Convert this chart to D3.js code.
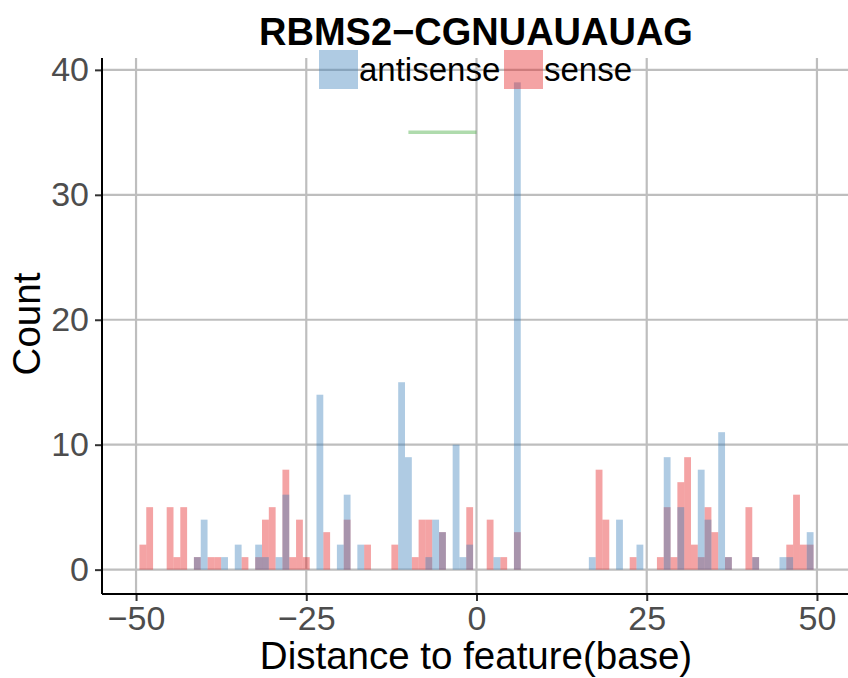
<!DOCTYPE html>
<html>
<head>
<meta charset="utf-8">
<script src="https://cdn.jsdelivr.net/npm/d3@7"></script>
<style>
  html, body { margin: 0; padding: 0; background: #ffffff; }
  svg { display: block; font-family: "Liberation Sans", Arial, Helvetica, sans-serif; }
</style>
</head>
<body>
<svg id="chart" width="848" height="678"></svg>
<script>
// ---- data ----
const title = "RBMS2\u2212CGNUAUAUAG";
const seriesNames = ["antisense", "sense"];
const antisensePos = [-41,-40,-37,-35,-32,-31,-29,-28,-23,-20,-19,-17,-11,-10,-7,-6,-5,-3,-2,-1,3,6,17,21,24,28,30,33,34,36,37,41,45,46,49];
const antisenseCnt = [1,4,1,2,2,1,1,6,14,2,6,2,15,9,1,4,3,10,1,2,1,39,1,4,2,9,5,8,4,11,1,1,1,1,3];
const sensePos = [-49,-48,-45,-44,-43,-41,-39,-38,-34,-32,-31,-30,-28,-27,-26,-25,-22,-19,-16,-12,-9,-8,-7,-5,-1,2,4,6,18,19,23,27,28,29,30,31,32,33,34,35,37,40,41,46,47,48,49];
const senseCnt = [2,5,5,1,5,1,1,1,1,1,4,5,8,1,4,1,3,4,2,2,1,4,4,3,5,4,1,3,8,4,1,1,5,1,7,9,2,1,5,3,1,5,1,2,6,2,2];
const motifStart = [-10];
const motifEnd = [0];
const motifY = [35];
const xTicks = [-50, -25, 0, 25, 50];
const yTicks = [0, 10, 20, 30, 40];
const xLabel = "Distance to feature(base)";
const yLabel = "Count";

// ---- layout ----
const svg = d3.select("#chart");
const L = 102, R = 851, T = 58, B = 594;
const x = d3.scaleLinear().domain([-55, 55]).range([L, R]);
const y = d3.scaleLinear().domain([-1.95, 40.95]).range([B, T]);
const blue = "#377EB8", red = "#E41A1C", green = "#4DAF4A";
const alpha = 0.4;

// grid
const grid = svg.append("g");
grid.selectAll("line.gx").data(xTicks).enter().append("line")
  .attr("x1", d => x(d)).attr("x2", d => x(d)).attr("y1", T).attr("y2", B)
  .attr("stroke", "#bebebe").attr("stroke-width", 2.2);
grid.selectAll("line.gy").data(yTicks).enter().append("line")
  .attr("x1", L).attr("x2", 848).attr("y1", d => y(d)).attr("y2", d => y(d))
  .attr("stroke", "#bebebe").attr("stroke-width", 2.2);

// bars: sense drawn first, antisense over it
const sense = sensePos.map((p, i) => ({ p, c: senseCnt[i] }));
const anti = antisensePos.map((p, i) => ({ p, c: antisenseCnt[i] }));
function drawBars(data, color) {
  svg.append("g").selectAll("rect").data(data).enter().append("rect")
    .attr("x", d => x(d.p - 0.5))
    .attr("width", d => x(d.p + 0.5) - x(d.p - 0.5))
    .attr("y", d => y(d.c))
    .attr("height", d => y(0) - y(d.c))
    .attr("fill", color).attr("fill-opacity", alpha);
}
drawBars(sense, red);
drawBars(anti, blue);

// motif segment
svg.append("g").selectAll("line").data(motifStart).enter().append("line")
  .attr("x1", (d, i) => x(d)).attr("x2", (d, i) => x(motifEnd[i]))
  .attr("y1", (d, i) => y(motifY[i])).attr("y2", (d, i) => y(motifY[i]))
  .attr("stroke", green).attr("stroke-opacity", 0.45).attr("stroke-width", 3.5);

// axes
const xAxis = d3.axisBottom(x).tickValues(xTicks).tickSize(7).tickPadding(6)
  .tickFormat(d => d < 0 ? "\u2212" + Math.abs(d) : d);
const gx = svg.append("g").attr("transform", `translate(0,${B})`).call(xAxis);
gx.select(".domain").remove();
gx.append("line").attr("x1", L).attr("x2", 848).attr("y1", 0).attr("y2", 0)
  .attr("stroke", "#000").attr("stroke-width", 2);
gx.selectAll(".tick line").attr("stroke", "#333").attr("stroke-width", 2);
gx.selectAll(".tick text").attr("fill", "#4d4d4d").attr("font-size", 34)
  .attr("font-family", "Liberation Sans, Arial, sans-serif").attr("dy", "0.68em");

const yAxis = d3.axisLeft(y).tickValues(yTicks).tickSize(7).tickPadding(6);
const gy = svg.append("g").attr("transform", `translate(${L},0)`).call(yAxis);
gy.select(".domain").remove();
gy.append("line").attr("x1", 0).attr("x2", 0).attr("y1", T).attr("y2", B)
  .attr("stroke", "#000").attr("stroke-width", 2);
gy.selectAll(".tick line").attr("stroke", "#333").attr("stroke-width", 2);
gy.selectAll(".tick text").attr("fill", "#4d4d4d").attr("font-size", 34)
  .attr("font-family", "Liberation Sans, Arial, sans-serif");

// axis titles
svg.append("text").attr("x", 476).attr("y", 669).attr("text-anchor", "middle")
  .attr("font-size", 38.5).attr("fill", "#000").text(xLabel);
svg.append("text").attr("transform", "translate(40,324) rotate(-90)")
  .attr("text-anchor", "middle").attr("font-size", 38.5).attr("fill", "#000").text(yLabel);

// title
svg.append("text").attr("x", 476).attr("y", 45).attr("text-anchor", "middle")
  .attr("font-size", 38).attr("font-weight", "bold").attr("fill", "#000").text(title);

// legend
const legX = [319, 504];
const legColors = [blue, red];
const lg = svg.append("g");
seriesNames.forEach((name, i) => {
  lg.append("rect").attr("x", legX[i]).attr("y", 50).attr("width", 39).attr("height", 39)
    .attr("fill", legColors[i]).attr("fill-opacity", alpha);
  lg.append("text").attr("x", legX[i] + 40).attr("y", 81).attr("font-size", 33)
    .attr("fill", "#000").text(name);
});
</script>
</body>
</html>
